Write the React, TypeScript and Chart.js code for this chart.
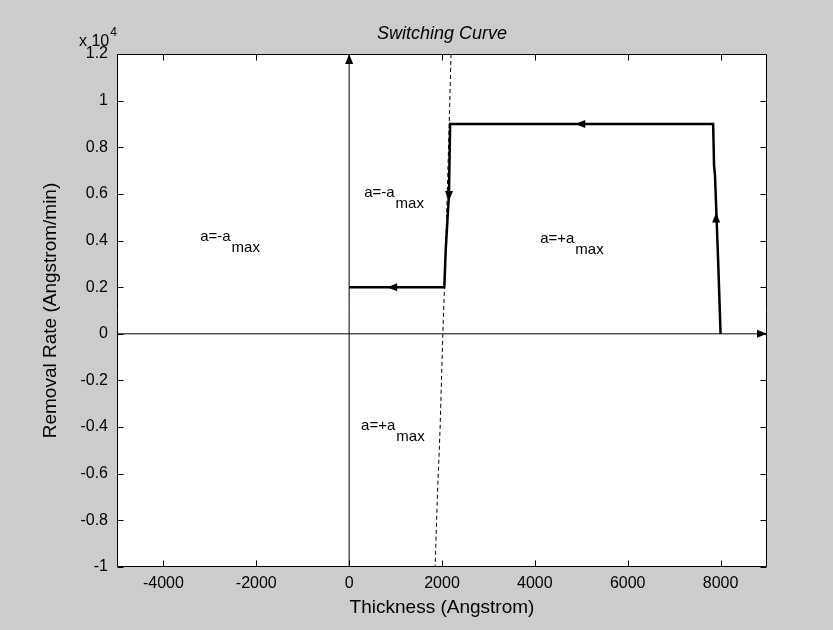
import React, { useEffect, useRef } from "react";
import { Chart, registerables } from "chart.js";
Chart.register(...registerables);

// Tick values
const xTicks = [-4000, -2000, 0, 2000, 4000, 6000, 8000];
const yTicks = [-10000, -8000, -6000, -4000, -2000, 0, 2000, 4000, 6000, 8000, 10000, 12000];

// Trajectory (thick solid line)
const curveX = [8000, 7950, 7880, 7860, 7840, 2175, 2150, 2080, 2050, 0];
const curveY = [0, 3000, 6800, 7200, 9000, 9000, 6000, 3600, 2000, 2000];

// Switching curve (dashed)
const switchX = [2195, 2155, 2100, 2053, 2018, 1960, 1900, 1852];
const switchY = [12000, 9000, 5000, 2000, 0, -4000, -7000, -10000];

// Axis lines through origin
const hAxisX = [-5000, 9000];
const hAxisY = [0, 0];
const vAxisX = [0, 0];
const vAxisY = [-10000, 12000];

// Arrow heads (tip position, direction)
const arrowX = [0, 9000, 4870, 2150, 7905, 820];
const arrowY = [12000, 0, 9000, 5700, 5200, 2000];
const arrowDir = ["up", "right", "left", "down", "up", "left"];

// Region annotations
const labelX = [-3209, 323, 4114, 258];
const labelY = [3980, 5870, 3900, -4130];
const labelMain = ["a=-a", "a=-a", "a=+a", "a=+a"];
const labelSub = ["max", "max", "max", "max"];

const FONT = "'Liberation Sans', Arial, Helvetica, sans-serif";

const overlay = {
  id: "overlay",
  afterDatasetsDraw(chart: any) {
    const { ctx, chartArea: ca, scales } = chart;
    const xs = scales.x;
    const ys = scales.y;
    ctx.save();
    ctx.strokeStyle = "#000";
    ctx.fillStyle = "#000";
    ctx.lineWidth = 1;
    // box
    const L = Math.round(ca.left) + 0.5;
    const R = Math.round(ca.right) - 0.5;
    const T = Math.round(ca.top) + 0.5;
    const B = Math.round(ca.bottom) - 0.5;
    ctx.beginPath();
    ctx.rect(L, T, R - L, B - T);
    ctx.stroke();
    // inward ticks
    const tl = 6;
    ctx.beginPath();
    for (const v of xTicks) {
      const px = Math.round(xs.getPixelForValue(v)) + 0.5;
      ctx.moveTo(px, B);
      ctx.lineTo(px, B - tl);
      ctx.moveTo(px, T);
      ctx.lineTo(px, T + tl);
    }
    for (const v of yTicks) {
      const py = Math.round(ys.getPixelForValue(v)) + 0.5;
      ctx.moveTo(L, py);
      ctx.lineTo(L + tl, py);
      ctx.moveTo(R, py);
      ctx.lineTo(R - tl, py);
    }
    ctx.stroke();

    // arrow heads
    const angles: Record<string, number> = { up: -Math.PI / 2, down: Math.PI / 2, left: Math.PI, right: 0 };
    for (let i = 0; i < arrowX.length; i++) {
      const tx = xs.getPixelForValue(arrowX[i]);
      const ty = ys.getPixelForValue(arrowY[i]);
      const a = angles[arrowDir[i]];
      const len = 10;
      const hw = 4;
      const bx = tx - Math.cos(a) * len;
      const by = ty - Math.sin(a) * len;
      ctx.beginPath();
      ctx.moveTo(tx, ty);
      ctx.lineTo(bx - Math.sin(a) * hw, by + Math.cos(a) * hw);
      ctx.lineTo(bx + Math.sin(a) * hw, by - Math.cos(a) * hw);
      ctx.closePath();
      ctx.fill();
    }

    // annotations
    ctx.textAlign = "left";
    ctx.textBaseline = "alphabetic";
    for (let i = 0; i < labelX.length; i++) {
      const px = xs.getPixelForValue(labelX[i]);
      const py = ys.getPixelForValue(labelY[i]);
      ctx.font = `15px ${FONT}`;
      ctx.fillText(labelMain[i], px, py);
      const w = ctx.measureText(labelMain[i]).width;
      ctx.fillText(labelSub[i], px + w + 1, py + 11);
    }

    // title
    ctx.textAlign = "center";
    ctx.font = `italic 18px ${FONT}`;
    ctx.fillText("Switching Curve", (ca.left + ca.right) / 2, 39);

    // exponent label
    ctx.textAlign = "left";
    ctx.font = `16px ${FONT}`;
    ctx.fillText("x 10", 79, 46);
    const ew = ctx.measureText("x 10").width;
    ctx.font = `12px ${FONT}`;
    ctx.fillText("4", 79 + ew + 1, 36);
    ctx.restore();
  },
};

export default function App() {
  const ref = useRef<HTMLCanvasElement>(null);
  useEffect(() => {
    document.body.style.margin = "0";
    const line = (xv: number[], yv: number[], width: number, dash: number[] = []) => ({
      data: xv.map((x, i) => ({ x, y: yv[i] })),
      showLine: true,
      borderColor: "#000",
      backgroundColor: "#000",
      borderWidth: width,
      borderDash: dash,
      pointRadius: 0,
      tension: 0,
      fill: false,
    });
    const chart = new Chart(ref.current as HTMLCanvasElement, {
      type: "scatter",
      data: {
        datasets: [
          line(hAxisX, hAxisY, 1),
          line(vAxisX, vAxisY, 1),
          line(switchX, switchY, 1, [4, 3]),
          line(curveX, curveY, 2.5),
        ] as any,
      },
      options: {
        animation: false,
        responsive: false,
        layout: { padding: { left: 0, right: 66, top: 54, bottom: 0 } },
        plugins: { legend: { display: false }, tooltip: { enabled: false }, title: { display: false } },
        scales: {
          x: {
            type: "linear",
            min: -5000,
            max: 9000,
            grid: { display: false, drawTicks: false },
            border: { display: false },
            afterBuildTicks: (s: any) => {
              s.ticks = xTicks.map((v) => ({ value: v }));
            },
            afterFit: (s: any) => {
              s.height = 63;
            },
            ticks: {
              autoSkip: false,
              maxRotation: 0,
              padding: 7,
              color: "#000",
              font: { family: FONT, size: 16 },
              callback: (v: any) => String(v),
            },
            title: {
              display: true,
              text: "Thickness (Angstrom)",
              color: "#000",
              font: { family: FONT, size: 19 },
              padding: { top: 0, bottom: 11 },
            },
          },
          y: {
            type: "linear",
            min: -10000,
            max: 12000,
            grid: { display: false, drawTicks: false },
            border: { display: false },
            afterBuildTicks: (s: any) => {
              s.ticks = yTicks.map((v) => ({ value: v }));
            },
            afterFit: (s: any) => {
              s.width = 117;
            },
            ticks: {
              autoSkip: false,
              padding: 9,
              color: "#000",
              font: { family: FONT, size: 16 },
              callback: (v: any) => String(Number((v / 10000).toFixed(1))),
            },
            title: {
              display: true,
              text: "Removal Rate (Angstrom/min)",
              color: "#000",
              font: { family: FONT, size: 19 },
              padding: { top: 39, bottom: 0 },
            },
          },
        },
      },
      plugins: [
        {
          id: "plotBg",
          beforeDraw(c: any) {
            const { ctx, chartArea: ca } = c;
            ctx.save();
            ctx.fillStyle = "#cccccc";
            ctx.fillRect(0, 0, c.width, c.height);
            ctx.fillStyle = "#ffffff";
            ctx.fillRect(ca.left, ca.top, ca.right - ca.left, ca.bottom - ca.top);
            ctx.restore();
          },
        },
        overlay,
      ],
    });
    return () => chart.destroy();
  }, []);
  return (
    <div style={{ position: "fixed", left: 0, top: 0, width: 833, height: 630, background: "#cccccc" }}>
      <canvas ref={ref} width={833} height={630} style={{ display: "block" }} />
    </div>
  );
}
